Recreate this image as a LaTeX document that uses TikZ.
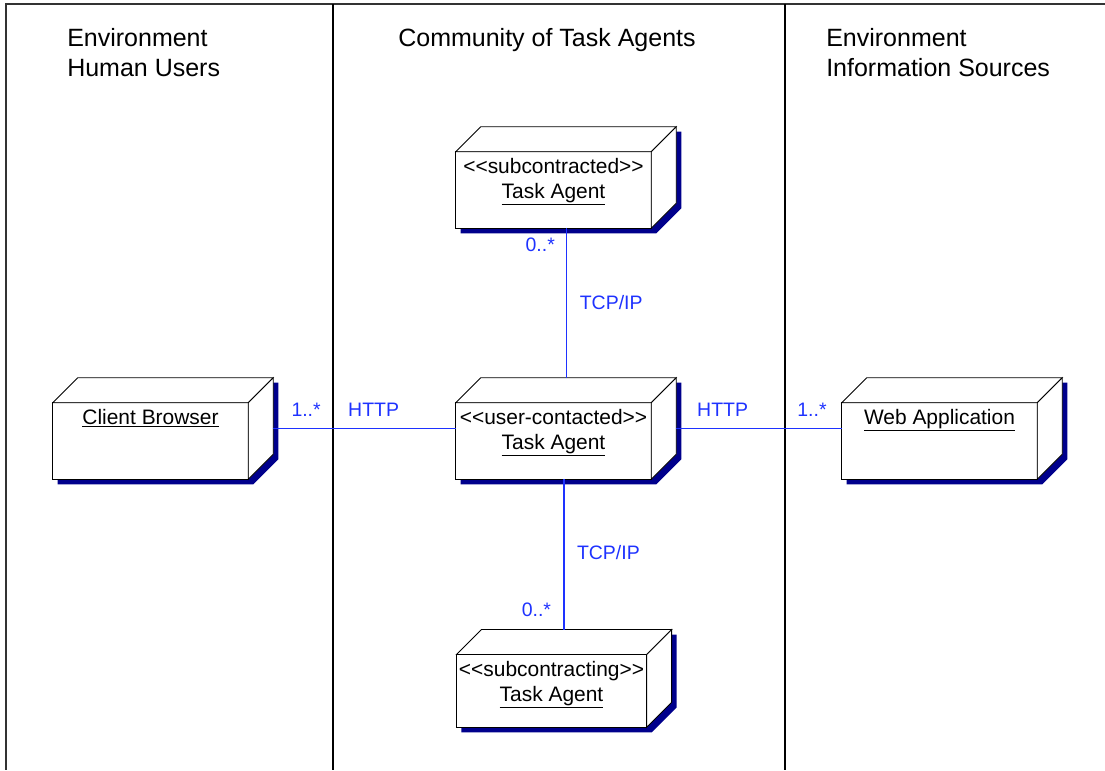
\documentclass[tikz,border=0pt]{standalone}
\usepackage{fontspec}
\setmainfont{Liberation Sans}
\usepackage{xcolor}
\usepackage{tikz}
\usetikzlibrary{calc}

\definecolor{linkblue}{RGB}{30,50,255}
\definecolor{shadowblue}{RGB}{0,0,140}

\begin{document}
\begin{tikzpicture}[x=0.75pt,y=-0.75pt,
        prism/.style={minimum width=165pt,minimum height=75.75pt,inner sep=0pt},
        smallprism/.style={minimum width=161pt,minimum height=73pt,inner sep=0pt},
        boxtext/.style={anchor=north,align=center,inner sep=0pt,font=\fontsize{15.7}{18.8}\selectfont},
        link/.style={linkblue,line width=0.75pt},
        mult/.style={linkblue,inner sep=0pt,font=\fontsize{14.6}{17.5}\selectfont},
        header/.style={anchor=north west,align=left,inner sep=0pt,font=\fontsize{18.75}{22.5}\selectfont}]
    \useasboundingbox (0,0) rectangle (1105,770);

    % Frame and the three lanes:
    \draw[black!80,line width=1.2pt] (1105,4) -- (6,4) -- (6,770);
    \foreach \x in {333,785}{%
        \draw[black,line width=0.8pt] (\x,4) -- (\x,770);
    }
    \node[header] (users) at (67,28) {Environment\\Human Users};
    \node[header,anchor=north] (community) at (547,28) {Community of Task Agents};
    \node[header] (sources) at (826,28) {Environment\\Information Sources};

    % Nodes:
    % The named node is the whole box (front face plus depth),
    % so that the links end on its outline
    \node[prism] (cb)  at (163,428.5) {};
    \node[prism] (ua)  at (566,428.5) {};
    \node[prism] (wa)  at (952,428.5) {};
    \node[prism] (sub) at (566,177.5) {};
    \node[smallprism] (sc) at (564,678.5) {};

    % 3D faces with the blue drop shadow:
    \foreach \n in {cb,ua,wa,sub,sc}{%
        \fill[shadowblue] ($(\n.south west)+(5,5)$) -- ($(\n.north west)+(5,30)$)
            -- ($(\n.north west)+(30,5)$) -- ($(\n.north east)+(5,5)$)
            -- ($(\n.south east)+(5,-20)$) -- ($(\n.south east)+(-20,5)$) -- cycle;
        \filldraw[fill=white,line width=0.6pt] (\n.south west) rectangle ($(\n.north east)+(-25,25)$);
        \filldraw[fill=white,line width=0.6pt] ($(\n.north west)+(0,25)$) -- ($(\n.north west)+(25,0)$)
            -- (\n.north east) -- ($(\n.north east)+(-25,25)$) -- cycle;
        \filldraw[fill=white,line width=0.6pt] ($(\n.north east)+(-25,25)$) -- (\n.north east)
            -- ($(\n.south east)+(0,-25)$) -- ($(\n.south east)+(-25,0)$) -- cycle;
    }

    % Box texts, at the top of the front face:
    \foreach \n/\t in {cb/{\underline{Client Browser}},
                       wa/{\underline{Web Application}},
                       ua/{<{}<user-contacted>{}>\\\underline{Task Agent}},
                       sub/{<{}<subcontracted>{}>\\\underline{Task Agent}},
                       sc/{<{}<subcontracting>{}>\\\underline{Task Agent}}}{%
        \node[boxtext] (\n-text) at ($(\n.north)+(-12.5,31)$) {\t};
    }

    % Links with their multiplicities:
    \draw[link] (cb) -- (ua)
        node[mult,pos=0.18,anchor=base,yshift=9pt] (m1) {1..*}
        node[mult,pos=0.55,anchor=base,yshift=9pt] (p1) {HTTP};
    \draw[link] (ua) -- (wa)
        node[mult,pos=0.28,anchor=base,yshift=9pt] (p2) {HTTP}
        node[mult,pos=0.82,anchor=base,yshift=9pt] (m2) {1..*};
    \draw[link] (sub) -- (ua)
        node[mult,pos=0.11,anchor=east,xshift=-8pt] (m3) {0..*}
        node[mult,pos=0.5,anchor=west,xshift=10pt] (p3) {TCP/IP};
    \draw[link,line width=1.5pt] (ua.south -| sc) -- (sc)
        node[mult,pos=0.49,anchor=west,xshift=9pt] (p4) {TCP/IP}
        node[mult,pos=0.87,anchor=east,xshift=-9pt] (m4) {0..*};
\end{tikzpicture}
\end{document}
